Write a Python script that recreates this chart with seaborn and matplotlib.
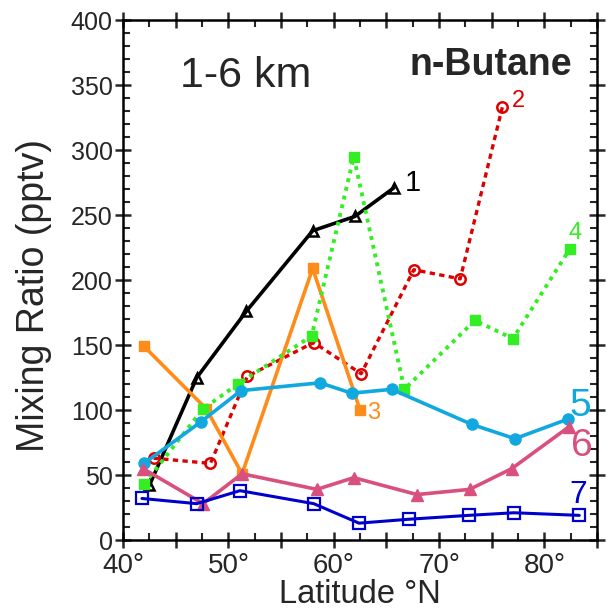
import matplotlib
matplotlib.use("Agg")
import matplotlib.pyplot as plt
import seaborn as sns
import pandas as pd
from matplotlib.ticker import MultipleLocator, FuncFormatter

# ---- data ----
lat1 = [42.5, 47.0, 51.7, 58.0, 62.0, 65.7]
val1 = [42, 125, 176, 238, 249, 271]

lat2 = [42.9, 48.3, 51.8, 58.1, 62.6, 67.6, 72.0, 76.0]
val2 = [63, 59, 126, 152, 128, 208, 201, 333]

lat3 = [42.0, 47.9, 51.3, 58.0, 62.5]
val3 = [149, 101, 51, 209, 100]

lat4 = [42.0, 47.6, 50.9, 57.9, 61.9, 66.7, 73.4, 77.0, 82.4]
val4 = [43, 101, 120, 157, 295, 116, 169, 155, 224]

lat5 = [42.0, 47.4, 51.2, 58.7, 61.7, 65.5, 73.1, 77.2, 82.2]
val5 = [59, 91, 115, 121, 113, 116, 89, 78, 93]

lat6 = [41.9, 47.6, 51.3, 58.4, 61.9, 67.9, 72.9, 76.9, 82.3]
val6 = [55, 28, 51, 39, 48, 35, 39, 55, 87]

lat7 = [41.8, 47.0, 51.1, 58.1, 62.4, 67.1, 72.8, 77.1, 83.3]
val7 = [32, 28, 38, 28, 13, 16, 19, 21, 19]

series_names = ["1", "2", "3", "4", "5", "6", "7"]
x_ticklabels = ["40°", "50°", "60°", "70°", "80°"]

# ---- style ----
sns.set_style("ticks")
plt.rcParams["font.family"] = ["Liberation Sans", "DejaVu Sans"]

fig = plt.figure(figsize=(6.15, 6.13), dpi=100)
ax = fig.add_axes([0.2, 0.119, 0.771, 0.848])

styles = [
    dict(color="#000000", marker="^", ls="-", lw=2.6, mfc="none", ms=7, mew=1.8),
    dict(color="#dd0000", marker="o", ls=(0, (1.6, 1.3)), lw=2.4, mfc="none", ms=7.5, mew=1.8),
    dict(color="#ff8c1a", marker="s", ls="-", lw=2.6, mfc="#ff8c1a", ms=7, mew=1),
    dict(color="#33ee22", marker="s", ls=(0, (1, 1.3)), lw=2.8, mfc="#33ee22", ms=7, mew=1),
    dict(color="#11a8e0", marker="o", ls="-", lw=2.6, mfc="#11a8e0", ms=8, mew=1),
    dict(color="#d9507f", marker="^", ls="-", lw=2.6, mfc="#d9507f", ms=9, mew=1),
    dict(color="#0000cc", marker="s", ls="-", lw=2.2, mfc="none", ms=8, mew=1.6),
]
lats = [lat1, lat2, lat3, lat4, lat5, lat6, lat7]
vals = [val1, val2, val3, val4, val5, val6, val7]

for name, la, va, st in zip(series_names, lats, vals, styles):
    df = pd.DataFrame({"lat": la, "val": va})
    sns.lineplot(data=df, x="lat", y="val", ax=ax, sort=False,
                 color=st["color"], marker=st["marker"], linestyle=st["ls"],
                 linewidth=st["lw"], markersize=st["ms"],
                 markerfacecolor=st["mfc"], markeredgecolor=st["color"],
                 markeredgewidth=st["mew"], zorder=3)

# series labels
lab_specs = [
    ("1", 66.7, 275, "#000000", 21),
    ("2", 76.9, 338, "#dd0000", 17),
    ("3", 63.2, 98, "#ff8c1a", 17),
    ("4", 82.3, 236, "#33ee22", 17),
    ("5", 82.4, 103, "#11a8e0", 28),
    ("6", 82.5, 72, "#d9507f", 28),
    ("7", 82.4, 35, "#0000cc", 23),
]
for t, x, y, c, fs in lab_specs:
    ax.text(x, y, t, color=c, fontsize=fs, ha="left", va="center")

ax.text(0.12, 0.893, "1-6 km", transform=ax.transAxes, fontsize=31,
        ha="left", va="center")
ax.text(0.947, 0.913, "n-Butane", transform=ax.transAxes, fontsize=27,
        fontweight="bold", ha="right", va="center")

ax.set_xlim(40, 85)
ax.set_ylim(0, 400)
ax.xaxis.set_major_locator(MultipleLocator(5))
ax.xaxis.set_minor_locator(MultipleLocator(2.5))
ax.yaxis.set_major_locator(MultipleLocator(50))
ax.yaxis.set_minor_locator(MultipleLocator(10))

def xfmt(v, pos):
    iv = int(round(v))
    k = (iv - 40) // 10
    if iv % 10 == 0 and 0 <= k < len(x_ticklabels):
        return x_ticklabels[k]
    return ""
ax.xaxis.set_major_formatter(FuncFormatter(xfmt))

ax.tick_params(which="major", direction="inout", length=11, width=1.8,
               top=True, right=True, labelsize=18, pad=2)
ax.tick_params(axis="x", which="major", labelsize=20, pad=4)
ax.tick_params(which="minor", direction="in", length=5, width=1.5,
               top=True, right=True)
for sp in ax.spines.values():
    sp.set_linewidth(1.8)
    sp.set_color("black")

ax.set_xlabel("Latitude °N", fontsize=23.5, labelpad=0)
ax.set_ylabel("Mixing Ratio (pptv)", fontsize=27)
ax.yaxis.set_label_coords(-0.15, 0.471)

fig.savefig("out.png", dpi=100)
